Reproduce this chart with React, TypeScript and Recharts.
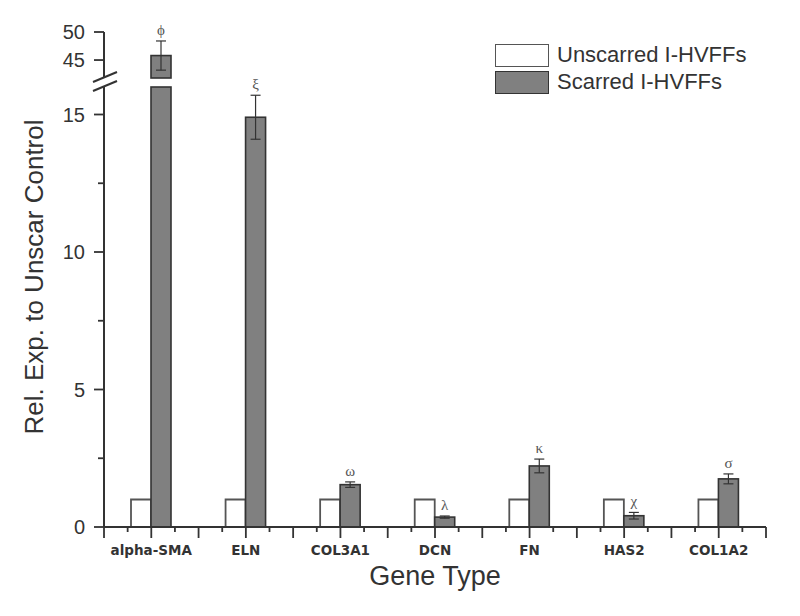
import React from "react";
import { BarChart, Bar, XAxis, YAxis, ErrorBar, Legend } from "recharts";

const genes = ["alpha-SMA", "ELN", "COL3A1", "DCN", "FN", "HAS2", "COL1A2"];
const unscarred = [1, 1, 1, 1, 1, 1, 1];
const scarred = [45.8, 14.9, 1.54, 0.36, 2.22, 0.41, 1.75];
const scarredErr = [2.6, 0.8, 0.1, 0.04, 0.25, 0.12, 0.18];
const marks = ["ϕ", "ξ", "ω", "λ", "κ", "χ", "σ"];

const lowTicks = [0, 2.5, 5, 7.5, 10, 12.5, 15];
const highTicks = [45, 47.5, 50];
const lowDomain = [0, 16];
const highDomain = [41.8, 50];

const W = 800;
const H = 616;
const LEFT = 44;
const RIGHT = 34;
const AXIS_W = 60;
const BAND = (W - LEFT - RIGHT - AXIS_W) / genes.length;

const INK = "#333";
const SCAR_FILL = "#808080";
const SCAR_STROKE = "#333";
const UNSCAR_STROKE = "#555";
const SANS = "'Liberation Sans', Arial, sans-serif";

const series = [
  { key: "unscar", name: "Unscarred I-HVFFs", fill: "#ffffff", stroke: UNSCAR_STROKE },
  { key: "scar", name: "Scarred I-HVFFs", fill: SCAR_FILL, stroke: SCAR_STROKE },
];

const broken = (v: number) => v > lowDomain[1];

const lowData = genes.map((g, i) => ({
  gene: g,
  unscar: unscarred[i],
  scar: Math.min(scarred[i], lowDomain[1]),
  err: broken(scarred[i]) ? null : scarredErr[i],
  mark: broken(scarred[i]) ? "" : marks[i],
}));

const highData = genes.map((g, i) => ({
  gene: g,
  unscar: null,
  scar: broken(scarred[i]) ? scarred[i] : null,
  err: broken(scarred[i]) ? scarredErr[i] : null,
  mark: broken(scarred[i]) ? marks[i] : "",
}));

// scarred bar + greek mark sitting above its error cap
const scarShape = (base: number) => (p: any) => {
  const { x, y, width, height, payload } = p;
  if (!payload || payload.scar == null) return <g />;
  const perUnit = height / (payload.scar - base);
  const capY = y - (payload.err ?? 0) * perUnit;
  return (
    <g>
      <rect x={x} y={y} width={width} height={height} fill={SCAR_FILL} stroke={SCAR_STROKE} strokeWidth={1.6} />
      {payload.mark ? (
        <text
          x={x + width / 2}
          y={capY - 6}
          textAnchor="middle"
          fontSize={15}
          fontFamily="'Liberation Serif', 'DejaVu Serif', serif"
          fill="#555"
        >
          {payload.mark}
        </text>
      ) : null}
    </g>
  );
};

function YTick(p: any) {
  const { x, y, payload } = p;
  const v = payload.value;
  const major = v % 5 === 0;
  const ax = x + 19;
  return (
    <g>
      <line x1={ax - (major ? 10 : 6)} x2={ax} y1={y} y2={y} stroke={INK} strokeWidth={1.8} />
      {major && (
        <text x={x} y={y} textAnchor="end" dominantBaseline="central" fontSize={20} fontFamily={SANS} fill={INK}>
          {v}
        </text>
      )}
    </g>
  );
}

function XTick(p: any) {
  const { x, y, payload, index } = p;
  const ay = y - 18;
  const half = BAND / 2;
  const q = BAND / 4;
  const last = index === genes.length - 1;
  const tick = (tx: number, len: number, k: string) => (
    <line key={k} x1={tx} x2={tx} y1={ay} y2={ay + len} stroke={INK} strokeWidth={1.8} />
  );
  return (
    <g>
      {tick(x - half, 11, "a")}
      {tick(x - q, 5, "b")}
      {tick(x, 11, "c")}
      {tick(x + q, 5, "d")}
      {last && tick(x + half, 11, "e")}
      <text
        x={x}
        y={ay + 23}
        textAnchor="middle"
        dominantBaseline="central"
        fontSize={13.5}
        fontWeight="bold"
        fontFamily="'DejaVu Sans', sans-serif"
        fill={INK}
      >
        {payload.value}
      </text>
    </g>
  );
}

function LegendBox() {
  return (
    <div style={{ display: "flex", flexDirection: "column", gap: 3 }}>
      {series.map((s) => (
        <div key={s.key} style={{ display: "flex", alignItems: "center", height: 24 }}>
          <span
            style={{
              width: 52,
              height: 21,
              background: s.fill,
              border: `1.6px solid ${s.stroke}`,
              display: "inline-block",
            }}
          />
          <span style={{ marginLeft: 8, fontSize: 22, fontFamily: SANS, color: INK, lineHeight: "24px" }}>
            {s.name}
          </span>
        </div>
      ))}
    </div>
  );
}

export default function App() {
  return (
    <div style={{ position: "absolute", left: 0, top: 0, width: W, height: H, background: "#fff" }}>
      <div style={{ position: "absolute", left: 0, top: 0 }}>
        <BarChart
          width={W}
          height={120}
          data={highData}
          margin={{ top: 32, right: RIGHT, bottom: 42, left: LEFT }}
          barGap={0}
          barSize={20}
        >
          <XAxis dataKey="gene" hide />
          <YAxis
            type="number"
            domain={highDomain}
            ticks={highTicks}
            width={AXIS_W}
            tickLine={false}
            tickSize={10}
            tickMargin={9}
            axisLine={{ stroke: INK, strokeWidth: 2 }}
            tick={<YTick />}
          />
          <Bar dataKey="unscar" fill="#fff" stroke={UNSCAR_STROKE} isAnimationActive={false} />
          <Bar dataKey="scar" shape={scarShape(highDomain[0])} isAnimationActive={false}>
            <ErrorBar dataKey="err" width={5} stroke={INK} strokeWidth={1.2} isAnimationActive={false} />
          </Bar>
        </BarChart>
      </div>
      <div style={{ position: "absolute", left: 0, top: 0 }}>
        <BarChart
          width={W}
          height={H}
          data={lowData}
          margin={{ top: 87, right: RIGHT, bottom: 59, left: LEFT }}
          barGap={0}
          barSize={20}
        >
          <XAxis
            dataKey="gene"
            height={30}
            interval={0}
            tickLine={false}
            tickSize={10}
            tickMargin={8}
            axisLine={{ stroke: INK, strokeWidth: 2 }}
            tick={<XTick />}
          />
          <YAxis
            type="number"
            domain={lowDomain}
            ticks={lowTicks}
            width={AXIS_W}
            tickLine={false}
            tickSize={10}
            tickMargin={9}
            axisLine={{ stroke: INK, strokeWidth: 2 }}
            tick={<YTick />}
          />
          <Legend
            layout="vertical"
            align="center"
            verticalAlign="middle"
            wrapperStyle={{ left: 495, top: 43, width: 300 }}
            content={<LegendBox />}
          />
          <Bar
            dataKey="unscar"
            name={series[0].name}
            fill={series[0].fill}
            stroke={series[0].stroke}
            strokeWidth={1.8}
            isAnimationActive={false}
          />
          <Bar
            dataKey="scar"
            name={series[1].name}
            fill={series[1].fill}
            stroke={series[1].stroke}
            shape={scarShape(lowDomain[0])}
            isAnimationActive={false}
          >
            <ErrorBar dataKey="err" width={5} stroke={INK} strokeWidth={1.2} isAnimationActive={false} />
          </Bar>
        </BarChart>
      </div>
      <svg width={W} height={H} style={{ position: "absolute", left: 0, top: 0, pointerEvents: "none" }}>
        <line x1={93} y1={82} x2={117} y2={72} stroke={INK} strokeWidth={2} />
        <line x1={93} y1={91} x2={117} y2={81} stroke={INK} strokeWidth={2} />
        <text
          transform="translate(43,277) rotate(-90)"
          textAnchor="middle"
          fontSize={26}
          fontFamily={SANS}
          fill={INK}
        >
          Rel. Exp. to Unscar Control
        </text>
        <text x={435} y={585} textAnchor="middle" fontSize={27} fontFamily={SANS} fill={INK}>
          Gene Type
        </text>
      </svg>
    </div>
  );
}
